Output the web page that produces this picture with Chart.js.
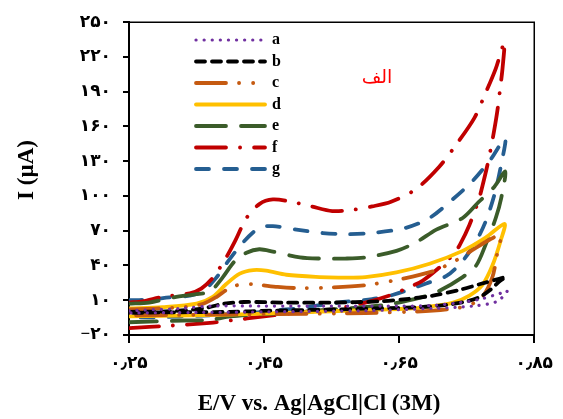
<!DOCTYPE html>
<html>
<head>
<meta charset="utf-8">
<script src="https://cdn.jsdelivr.net/npm/chart.js@4"></script>
<style>
  body { margin: 0; background: #fff; }
  #cv { display: block; }
</style>
</head>
<body>
<canvas id="cv" width="563" height="419"></canvas>
<script>
// ================================================
// Data (CV loops: forward scan, then reverse scan)
// ================================================

const seriesNames = ['a', 'b', 'c', 'd', 'e', 'f', 'g'];

const aV = [0.25, 0.33, 0.37, 0.45, 0.55, 0.65, 0.70, 0.74, 0.77, 0.80, 0.81, 0.795, 0.76, 0.70, 0.60, 0.46, 0.35, 0.25];
const aI = [1, 3, 5, 5, 5, 5, 5.5, 8, 11, 16, 18, 9, 5, 3, 1, 0, -0.5, -1];

const bV = [0.25, 0.31, 0.36, 0.39, 0.42, 0.48, 0.55, 0.62, 0.66, 0.70, 0.74, 0.77, 0.795, 0.808, 0.80, 0.785, 0.77, 0.75, 0.72, 0.68, 0.62, 0.55, 0.46, 0.40, 0.30, 0.25];
const bI = [0, 0.5, 3, 7, 8.5, 8, 8, 9, 11, 14, 19, 24, 28, 30, 27, 19, 13, 9, 6, 4, 3, 2, 1, 0, -0.5, -1];

const cV = [0.25, 0.33, 0.36, 0.38, 0.40, 0.42, 0.44, 0.47, 0.50, 0.55, 0.60, 0.65, 0.70, 0.73, 0.755, 0.783, 0.80, 0.795, 0.788, 0.773, 0.75, 0.70, 0.60, 0.45, 0.25];
const cI = [2, 4, 7, 13, 21, 24, 23.5, 21.5, 20.5, 21, 23, 28, 35, 43, 52, 62, 66, 50, 30, 13, 5, 1, -1, -2, -3];

const dV = [0.25, 0.30, 0.35, 0.374, 0.394, 0.414, 0.434, 0.453, 0.483, 0.532, 0.56, 0.60, 0.646, 0.695, 0.744, 0.778, 0.806, 0.80, 0.788, 0.773, 0.754, 0.73, 0.70, 0.67, 0.60, 0.50, 0.40, 0.25];
const dI = [3, 4, 7, 13, 24, 33, 36, 35.5, 32, 30, 29.6, 30, 34, 41.5, 52.6, 64, 76, 61, 40, 23, 14, 8, 5, 3, 1.5, -0.5, -2.5, -4];

const eV = [0.25, 0.28, 0.32, 0.36, 0.37, 0.389, 0.407, 0.424, 0.443, 0.463, 0.503, 0.532, 0.57, 0.60, 0.646, 0.675, 0.705, 0.744, 0.768, 0.791, 0.807, 0.801, 0.793, 0.778, 0.764, 0.744, 0.709, 0.68, 0.63, 0.596, 0.55, 0.50, 0.45, 0.40, 0.37, 0.33, 0.25];
const eI = [7, 8, 13, 16, 17, 30, 44, 51, 54, 52, 47, 46, 46, 47, 52.6, 60, 71, 81, 95, 108, 121, 98, 81, 58, 40, 30, 18, 12, 6, 4, 2, -0.5, -2, -4, -7, -7.5, -9];

const fV = [0.25, 0.27, 0.30, 0.34, 0.357, 0.375, 0.394, 0.407, 0.424, 0.443, 0.463, 0.49, 0.52, 0.551, 0.58, 0.61, 0.638, 0.675, 0.709, 0.734, 0.761, 0.778, 0.793, 0.801, 0.806, 0.803, 0.80, 0.795, 0.788, 0.78, 0.773, 0.768, 0.754, 0.74, 0.731, 0.709, 0.685, 0.66, 0.635, 0.60, 0.55, 0.51, 0.45, 0.40, 0.37, 0.31, 0.25];
const fI = [8, 9, 13, 16, 20, 30, 47, 61, 81, 93, 97, 95, 91, 87, 88, 91, 95, 106, 125, 144, 167, 189, 210, 225, 233, 210, 195, 172, 148, 125, 108, 97, 75, 58, 50, 38, 27, 20, 14, 8, 2, 0, -4, -7.5, -9.5, -12, -14];

const gV = [0.25, 0.28, 0.31, 0.34, 0.36, 0.38, 0.394, 0.419, 0.443, 0.463, 0.498, 0.537, 0.57, 0.61, 0.66, 0.695, 0.729, 0.758, 0.786, 0.807, 0.801, 0.791, 0.778, 0.764, 0.744, 0.72, 0.69, 0.64, 0.61, 0.56, 0.50, 0.47, 0.45, 0.40, 0.35, 0.30, 0.25];
const gI = [10, 10.5, 12.5, 14, 18, 30, 41.5, 60, 72.5, 74, 71, 68, 67, 68, 72.5, 81, 97, 112.5, 132, 150, 127, 101, 78, 61, 44, 31, 24.5, 14.5, 11, 8, 3, 1.5, 0, -2, -3.5, -4.5, -5];

const xTicks = [0.25, 0.45, 0.65, 0.85];
const xTickLabels = ['۰٫۲۵', '۰٫۴۵', '۰٫۶۵', '۰٫۸۵'];
const yTicks = [-20, 10, 40, 70, 100, 130, 160, 190, 220, 250];
const yTickLabels = ['−۲۰', '۱۰', '۴۰', '۷۰', '۱۰۰', '۱۳۰', '۱۶۰', '۱۹۰', '۲۲۰', '۲۵۰'];

const xTitle = 'E/V vs. Ag|AgCl|Cl (3M)';
const yTitle = 'I (µA)';

// ================================================
// Styles
// ================================================

const seriesStyles = [
  { color: '#7030A0', width: 3.2, dash: [0.1, 8] },
  { color: '#000000', width: 3.8, dash: [9, 7] },
  { color: '#C55A11', width: 3.8, dash: [30, 13, 0.1, 14, 0.1, 13] },
  { color: '#FFC000', width: 3.8, dash: [] },
  { color: '#3B5C2A', width: 3.8, dash: [30, 15] },
  { color: '#C00000', width: 3.8, dash: [30, 14, 0.1, 14] },
  { color: '#255E91', width: 3.8, dash: [13, 15] }
];

const seriesData = [[aV, aI], [bV, bI], [cV, cI], [dV, dI], [eV, eI], [fV, fI], [gV, gI]];

function toPoints(vs, is) {
  return vs.map((v, i) => ({ x: v, y: is[i] }));
}

const datasets = seriesNames.map((name, k) => ({
  label: name,
  data: toPoints(seriesData[k][0], seriesData[k][1]),
  showLine: true,
  borderColor: seriesStyles[k].color,
  backgroundColor: seriesStyles[k].color,
  borderWidth: seriesStyles[k].width,
  borderDash: seriesStyles[k].dash,
  borderCapStyle: 'round',
  borderJoinStyle: 'round',
  pointRadius: 0,
  tension: 0.3
}));

// ================================================
// Plugins: frame, titles, in-plot legend, label
// ================================================

const extrasPlugin = {
  id: 'extras',
  afterDraw(chart) {
    const { ctx, chartArea } = chart;
    ctx.save();

    // frame (top + right)
    ctx.strokeStyle = '#000';
    ctx.lineWidth = 1.5;
    ctx.beginPath();
    ctx.moveTo(chartArea.left, chartArea.top);
    ctx.lineTo(chartArea.right, chartArea.top);
    ctx.lineTo(chartArea.right, chartArea.bottom);
    ctx.stroke();

    // axis titles
    ctx.fillStyle = '#000';
    ctx.font = 'bold 23px "Times New Roman", "Liberation Serif", serif';
    ctx.textAlign = 'center';
    ctx.textBaseline = 'middle';
    ctx.fillText(xTitle, 319, 404);
    ctx.save();
    ctx.translate(27, 170);
    ctx.rotate(-Math.PI / 2);
    ctx.fillText(yTitle, 0, 0);
    ctx.restore();

    // legend
    const x0 = 196, x1 = 265, y0 = 40, dy = 21.5;
    seriesNames.forEach((name, k) => {
      const st = seriesStyles[k];
      const y = y0 + k * dy;
      ctx.strokeStyle = st.color;
      ctx.lineWidth = st.width;
      ctx.lineCap = 'round';
      ctx.setLineDash(st.dash);
      ctx.beginPath();
      ctx.moveTo(x0, y);
      ctx.lineTo(x1, y);
      ctx.stroke();
      ctx.setLineDash([]);
      ctx.fillStyle = '#000';
      ctx.font = 'bold 16px "Times New Roman", "Liberation Serif", serif';
      ctx.textAlign = 'left';
      ctx.textBaseline = 'middle';
      ctx.fillText(name, 272, y);
    });

    // label
    ctx.fillStyle = '#FF0000';
    ctx.font = '19px "DejaVu Sans", sans-serif';
    ctx.textAlign = 'center';
    ctx.textBaseline = 'middle';
    ctx.fillText('الف', 377, 78);

    ctx.restore();
  }
};

// ================================================
// Chart
// ================================================

const tickFont = { family: '"Times New Roman", "DejaVu Sans", serif', size: 17, weight: 'bold' };

new Chart(document.getElementById('cv'), {
  type: 'scatter',
  data: { datasets: datasets },
  options: {
    responsive: false,
    animation: false,
    layout: { padding: { top: 19, right: 28, left: 0, bottom: 0 } },
    plugins: {
      legend: { display: false },
      tooltip: { enabled: false }
    },
    scales: {
      x: {
        type: 'linear',
        position: 'bottom',
        min: 0.25,
        max: 0.85,
        afterBuildTicks: (scale) => { scale.ticks = xTicks.map(v => ({ value: v })); },
        afterFit: (scale) => { scale.height = 84; },
        ticks: {
          color: '#000',
          font: tickFont,
          padding: 10,
          maxRotation: 0,
          callback: (value, index) => xTickLabels[index]
        },
        grid: { drawOnChartArea: false, drawTicks: true, tickLength: 8, color: '#000', lineWidth: 2 },
        border: { color: '#000', width: 2 }
      },
      y: {
        type: 'linear',
        min: -20,
        max: 250,
        afterBuildTicks: (scale) => { scale.ticks = yTicks.map(v => ({ value: v })); },
        afterFit: (scale) => { scale.width = 129; },
        ticks: {
          color: '#000',
          font: tickFont,
          padding: 12,
          callback: (value, index) => yTickLabels[index]
        },
        grid: { drawOnChartArea: false, drawTicks: true, tickLength: 6, color: '#000', lineWidth: 2 },
        border: { color: '#000', width: 2 }
      }
    }
  },
  plugins: [extrasPlugin]
});
</script>
</body>
</html>
